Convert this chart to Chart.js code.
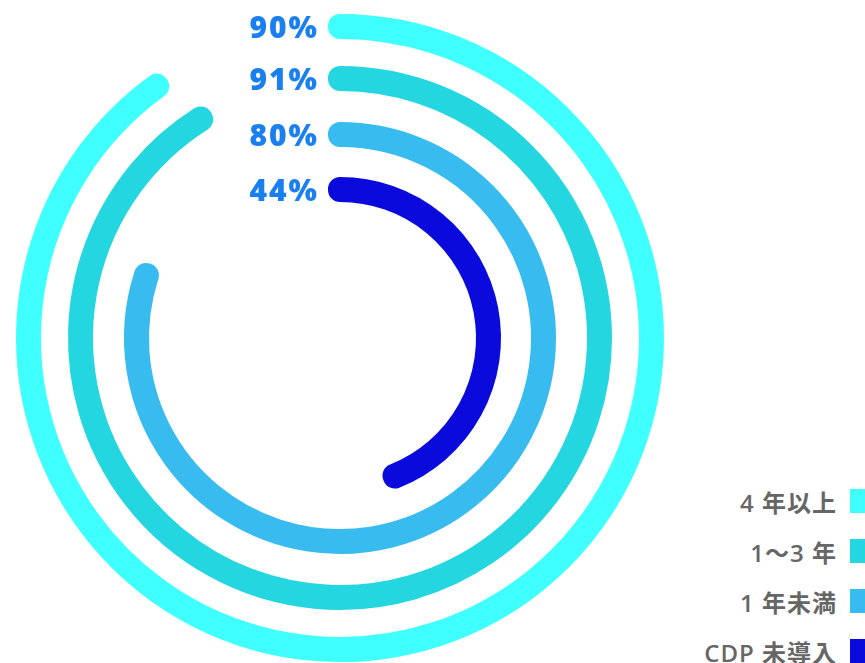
<!DOCTYPE html>
<html lang="ja">
<head>
<meta charset="utf-8">
<title>CDP rings</title>
<script src="https://cdn.jsdelivr.net/npm/chart.js@4.4.1/dist/chart.umd.min.js"></script>
<style>
  html, body { margin: 0; padding: 0; background: #fff; }
  #wrap { position: relative; width: 865px; height: 663px; overflow: hidden; }
  #chart { position: absolute; left: 0; top: 0; }
  #legend {
    position: absolute; right: 0; top: 476px;
    font-family: "Open Sans", "Noto Sans CJK JP", sans-serif;
    font-size: 24px; font-weight: 600; color: #666;
    letter-spacing: 1px;
  }
  #legend .item { display: flex; justify-content: flex-end; align-items: center; height: 50px; }
  #legend .box { width: 15px; height: 24px; margin-left: 13px; }
</style>
</head>
<body>
<div id="wrap">
  <canvas id="chart" width="680" height="676"></canvas>
  <div id="legend"></div>
</div>
<script>
const categories = ['4 年以上', '1～3 年', '1 年未満', 'CDP 未導入'];
const rates = [90, 91, 80, 44];
const colors = ['#40ffff', '#24d6e0', '#38bcf0', '#0a0adc'];
const rateColor = '#1a7ff0';

// empty ring widths outside each coloured ring (outermost first)
const gapWeights = [26, 51, 55, 54];

const datasets = [];
categories.forEach((cat, i) => {
    datasets.push({
        data: [1],
        weight: gapWeights[i],
        backgroundColor: 'transparent',
        borderWidth: 0,
        isSpacer: true
    });
    datasets.push({
        label: cat,
        data: [rates[i], 100 - rates[i]],
        weight: 1,
        backgroundColor: [colors[i], 'transparent'],
        borderColor: [colors[i], 'transparent'],
        borderWidth: 24,
        borderJoinStyle: 'round',
        borderAlign: 'center'
    });
});

// percentage text to the left of each ring's start
const rateLabels = {
    id: 'rateLabels',
    afterDatasetsDraw(chart) {
        const ctx = chart.ctx;
        ctx.save();
        ctx.font = '800 30px "Open Sans", "Noto Sans", sans-serif';
        ctx.letterSpacing = '2px';
        ctx.fillStyle = rateColor;
        ctx.textAlign = 'right';
        ctx.textBaseline = 'middle';
        chart.data.datasets.forEach((ds, i) => {
            if (ds.isSpacer) return;
            const arc = chart.getDatasetMeta(i).data[0];
            const r = (arc.outerRadius + arc.innerRadius) / 2;
            ctx.fillText(ds.data[0] + '%', arc.x - 21, arc.y - r + 3);
        });
        ctx.restore();
    }
};

new Chart(document.getElementById('chart').getContext('2d'), {
    type: 'doughnut',
    data: { datasets },
    options: {
        responsive: false,
        animation: false,
        events: [],
        cutout: 148,
        plugins: {
            tooltip: { enabled: false },
            legend: { display: false }
        }
    },
    plugins: [rateLabels]
});

// legend: text on the left, colour box on the right
const legend = document.getElementById('legend');
categories.forEach((cat, i) => {
    const item = document.createElement('div');
    item.className = 'item';
    item.innerHTML = `<span>${cat}</span><span class="box" style="background:${colors[i]}"></span>`;
    legend.appendChild(item);
});
</script>
</body>
</html>
